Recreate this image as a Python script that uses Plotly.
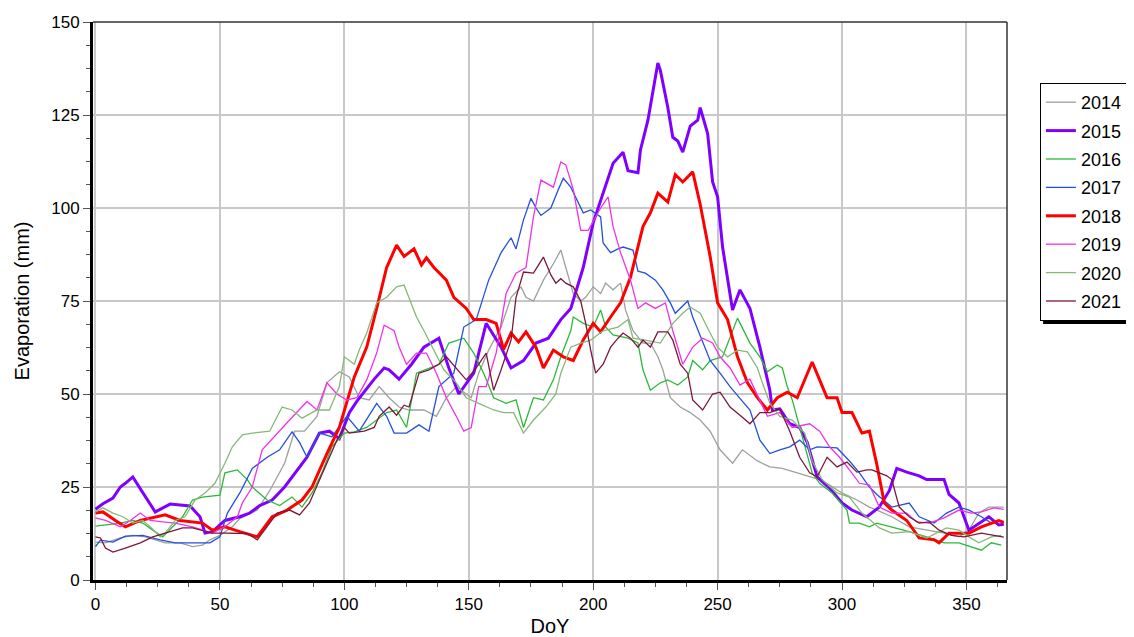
import plotly.graph_objects as go

# ---- data (day of year, evaporation mm) ----
days_2014 = [0,4,10,15,20,24,28,34,39,43,46,50,55,58,65,70,76,80,84,89,93,98,102,106,110,114,118,122,126,132,137,141,145,151,154,158,163,167,171,173,176,180,184,187,189,192,195,197,200,203,205,208,211,213,216,220,223,226,228,231,235,239,243,247,251,256,260,266,271,276,282,287,291,295,300,306,311,314,320,327,334,341,347,351,355,359,363,365]
vals_2014 = [10.2,10,11.3,12,11.6,10.8,10,10,9,9.4,10.8,12,14.3,16.5,18.8,24,31.4,40,40,44,53,56,54.6,49,48.4,52,49,46.5,45.7,45.7,44,49,52,49,55.6,61.8,68,76,78.8,76,75,80.6,85,88.7,84,77,75,76,78.8,77,79.8,78,79.8,72.6,67,63.7,63.7,60,56.5,49,46.5,45,43,40,35,31.4,35,32,30.4,30,28.8,27.7,27,25.5,23.4,21.5,19.6,18.8,17,14.3,13.4,12.6,11.6,13.4,18,19.6,19.6,19.6]

days_2015 = [0,3,7,10,12,15,19,24,30,35,38,42,44,47,52,58,62,66,71,76,81,85,90,94,98,102,105,112,116,118,122,127,132,138,142,146,152,157,163,167,172,177,182,187,191,196,200,204,208,212,214,218,219,222,224,226,227,230,232,234,236,239,242,243,246,248,250,252,256,259,263,267,271,272,275,279,283,286,290,295,300,304,310,315,319,322,326,331,334,341,343,347,351,355,359,363,365]
vals_2015 = [19,20.5,22,25,26,27.7,23.5,18.3,20.4,20,19.9,17,12.6,13,16,17,18,20,21.5,25,29.6,33,39.5,40,38,45,48,54,57,56.5,54,58,62.6,65,57,50,55.6,69,62.6,57,59,63.7,65,70,73,84,96,104,112,115,110,109.5,115.6,123.6,131,139,137,127,119,118,115,122,123.6,127,120,107,103,89.5,72.6,78,73,62.6,51,45.7,46,42,41,37,27.7,24.7,20.7,18.8,17,19.6,24,30,29,28,27,27,23,20.7,13.4,15.3,17,14.8,15]

days_2016 = [0,4,10,15,19,23,27,31,35,39,43,50,52,57,61,63,69,74,79,83,87,91,95,100,104,109,113,117,121,125,129,134,138,142,148,152,156,160,165,169,172,176,180,184,187,191,192,196,200,203,205,208,214,218,220,223,227,230,234,238,240,244,247,252,255,258,263,267,270,274,276,278,280,283,286,288,291,296,302,303,307,311,314,320,327,334,341,347,352,356,360,364]
vals_2016 = [14.5,14.8,15.3,16,15.3,13.4,11.6,14.3,17,21.5,22.3,22.8,28.8,29.6,27,25,21.5,20,22.3,19.6,23.4,28.8,35.8,39.5,39.8,41,43,45,45.7,41,55.6,57,58,63.7,65,61,55.6,49,47.5,48.4,41,49,48.4,53.8,60,67,70.7,69,68,72.6,68,65.9,65,63.7,56.5,51,53,53.8,52.4,54.6,59,56.5,59,60,65,70.4,63.7,60,56,57.8,57,52,48.4,41,34,28.8,26,23.4,18.8,15.3,15.3,14.3,15.3,14.3,13,11.6,10,10,9,8,10,9.4]

days_2017 = [0,2,7,12,19,26,32,39,46,50,53,58,63,69,74,79,82,85,90,95,101,106,113,117,120,125,130,134,138,144,148,153,158,163,167,169,172,175,177,179,183,186,188,191,196,199,203,204,207,210,212,216,218,221,225,228,231,233,238,240,244,247,251,255,260,263,267,271,275,279,283,287,290,298,303,307,311,314,320,327,331,337,342,347,351,356,360,363,365]
vals_2017 = [9,10.7,10.2,11.8,12,10.8,10,10,10,11.6,18,23.4,30,33,35,39.8,37,33,39.5,38.5,44,40,47.5,44,39.5,39.5,41.7,40,52,55.6,68,70,80.6,88,92,89,96.8,102.6,100,98,100,105,108,105.6,98.7,99.5,97.6,90.6,88,89,89.5,88.7,83,82.5,80.6,78,74.5,71.7,75,70.7,63.7,59,55.6,52,48,45.7,37.6,34,35,35.8,37.6,35,35.8,35.5,32,28.8,25,23,19.6,20.7,17,15.3,18,19.6,18.8,17,15.3,16,15.5]

days_2018 = [0,3,8,12,18,23,28,34,39,43,47,52,58,65,71,77,83,87,93,98,104,109,113,117,121,124,128,131,133,136,141,144,149,152,157,161,164,167,170,173,177,180,184,188,192,196,200,203,207,211,215,220,223,226,230,233,236,240,243,247,250,254,258,262,266,270,274,278,282,286,288,291,294,298,300,304,308,311,314,317,320,326,331,337,339,343,351,356,363,365]
vals_2018 = [18,18.3,16,14.3,16,16.7,17.5,16,15.6,15.3,13.4,14.3,13,11.6,17,18.8,21.5,25,34,41,54.6,62.6,73,84,90,87,89,84.7,86.6,84,80.6,76,73,70,70,69,62,66.4,64,66.7,62.6,57,61.8,60,59,64.5,69,66.7,70.7,74.5,81.4,95,98.7,104,101.6,109,107,109.7,101,87,74.5,70,60,53,49,45.7,49,50.5,49,55.6,58.6,53.8,49,49,45,45,39.5,40,31,20.7,18.8,16,11.3,10.8,10,12.6,12.6,14.3,16,15.5]

days_2019 = [0,4,10,14,18,22,27,32,39,43,47,52,57,59,63,67,73,78,85,89,93,97,101,105,109,113,116,120,122,125,129,133,137,141,145,148,151,154,157,161,165,169,173,176,179,181,184,187,189,192,195,198,203,206,208,211,215,218,221,225,229,232,236,240,244,248,251,255,259,263,267,270,275,280,287,291,295,299,303,307,311,315,320,326,330,335,341,347,352,356,361,365]
vals_2019 = [16.7,16,14.3,16,18,16,15.6,15.3,14.3,13.4,12.6,14.3,17,20.7,25,35,39.5,43,48,45.7,53,50,48.4,49,53.8,61,68.5,67,62.6,58,61,61,55.6,49,44,40,41,52,52,61,77,82.5,84,97.6,107.5,106.7,105.6,112.4,111.6,105,94,94,100,103,95,88,80.6,73,74.5,73,74.5,67,58,62.6,65,63.7,60,57,52.4,54,48.4,44,45,41,42,40,35.8,33,29.6,26,25.5,19.6,18,18,15.6,15.3,16.7,18.8,18,18.3,19.4,19]

days_2020 = [0,3,7,11,15,19,22,26,28,32,36,40,44,48,52,55,59,63,70,75,79,83,89,94,98,100,104,106,109,113,117,121,124,126,129,132,136,140,145,149,154,160,164,168,172,176,181,185,187,191,195,199,204,210,214,216,221,227,232,236,239,243,247,250,254,258,262,266,268,271,275,280,285,288,292,298,303,308,315,320,327,334,342,347,351,355,360,364]
vals_2020 = [18.3,19.4,18,17,15.3,16,14.3,11.6,12.6,16,17,21.5,23.4,26,31.4,35.8,39,39.5,40,46.5,45.7,43.5,45.7,45.7,52,60,58,61.8,66.4,74.5,76,78.8,79.3,76,70.7,67,61.8,56.5,53,49,47.5,45.7,45,45,39.5,43,46.5,50,55.6,62.6,63.7,64.5,67,68,70,65,64.5,63.7,69,71.7,73.4,71.7,66.4,62.6,60,61.8,61.3,57,53,47.5,44,43,39.5,32,27,23.4,22.3,18,14,12.6,13,11.3,14,13.4,11.6,10,11.6,12]

days_2021 = [0,2,4,7,12,18,23,28,32,35,39,43,47,52,57,61,65,69,73,78,82,86,90,93,97,100,102,108,112,114,118,121,124,126,130,134,138,141,145,149,153,157,160,163,167,169,172,176,180,183,185,187,189,192,195,197,199,201,204,207,210,212,215,218,220,223,226,230,232,235,238,240,244,248,251,255,259,263,267,271,275,279,283,287,290,294,298,302,306,310,312,318,320,323,327,331,335,339,344,349,356,361,365]
vals_2021 = [11.6,11.3,8.6,7.5,8.6,10,11.6,12.6,13.4,14,14,13.4,12.6,12.6,12.6,12.5,10.8,14.3,18,18.8,17.5,20.7,27,31.4,37.6,41,39.5,40,41,44,46.5,44.3,47,46.5,55.6,56.5,58,60,57,53.8,57,61,51,56.5,64.5,76,82.8,82.5,86.8,82,79.8,81,79.8,78.8,75,69,61.8,55.6,58,62.6,65,66.4,65,62.6,64.5,62.6,66.7,66.7,64.5,58,55.6,48.4,45.7,50,50.5,46.5,44.3,42,45,45,46,40,33,28.8,27.7,33,30.4,31.7,29,29.6,29.6,28,27,19.6,17,15.3,15.6,13.4,12,11.6,12.6,12,11.5]

series_names = ["2014", "2015", "2016", "2017", "2018", "2019", "2020", "2021"]
series_days = [days_2014, days_2015, days_2016, days_2017, days_2018, days_2019, days_2020, days_2021]
series_vals = [vals_2014, vals_2015, vals_2016, vals_2017, vals_2018, vals_2019, vals_2020, vals_2021]
colors = ["#9AA29A", "#8000FF", "#2DB83A", "#2450DC", "#FF0000", "#F032E6", "#86B878", "#7A1838"]
widths = [1.3, 3, 1.3, 1.3, 3, 1.3, 1.3, 1.3]

x_ticks = [0, 50, 100, 150, 200, 250, 300, 350]
y_ticks = [0, 25, 50, 75, 100, 125, 150]

FONT = "Liberation Sans, Arial, sans-serif"

fig = go.Figure()
for name, d, v, c, w in zip(series_names, series_days, series_vals, colors, widths):
    assert len(d) == len(v), name
    fig.add_trace(go.Scatter(x=d, y=v, mode="lines", name=name, legendgroup=name,
                             line=dict(color=c, width=w)))

# the page adds an 8 px body margin, so the figure is 8 px smaller and margins are shifted
fig.update_layout(
    width=1126, height=629,
    margin=dict(l=85, r=127, t=14, b=57, autoexpand=False),
    paper_bgcolor="white", plot_bgcolor="white",
    font=dict(family=FONT, size=17, color="black"),
    showlegend=True,
    legend=dict(x=1.036, y=0.8907, xanchor="left", yanchor="top",
                bgcolor="white", bordercolor="black", borderwidth=1,
                font=dict(family=FONT, size=18, color="black"),
                traceorder="grouped", tracegroupgap=2, itemwidth=30),
    xaxis=dict(range=[-1, 366.3], tickvals=x_ticks, showgrid=True, gridcolor="#C8C8C8", gridwidth=1.5,
               zeroline=False, showline=True, linecolor="black", linewidth=3, automargin=False,
               ticks="outside", ticklen=7, tickwidth=1, tickcolor="#555",
               minor=dict(dtick=12.5, tick0=0, ticks="outside", ticklen=4, tickcolor="#555", showgrid=False),
               tickfont=dict(size=17),
               title=dict(text="DoY", font=dict(size=20), standoff=9)),
    yaxis=dict(range=[0, 150], tickvals=y_ticks, showgrid=True, gridcolor="#C8C8C8", gridwidth=1.5,
               zeroline=False, showline=True, linecolor="black", linewidth=3, automargin=False,
               ticks="outside", ticklen=7, tickwidth=1, tickcolor="#555",
               minor=dict(dtick=6.25, tick0=0, ticks="outside", ticklen=4, tickcolor="#555", showgrid=False),
               tickfont=dict(size=17),
               title=dict(text="Evaporation (mm)", font=dict(size=20), standoff=17)),
    shapes=[
        dict(type="line", xref="paper", yref="paper", x0=0, x1=1, y0=1, y1=1,
             line=dict(color="#333", width=1.5), layer="above"),
        dict(type="line", xref="paper", yref="paper", x0=1, x1=1, y0=0, y1=1,
             line=dict(color="#333", width=1.5), layer="above"),
        dict(type="rect", xref="paper", yref="paper", x0=1.0395, x1=1.2, y0=0.4588, y1=0.885,
             fillcolor="black", line=dict(width=0), layer="below"),
    ],
)

fig.write_html("out.html")
